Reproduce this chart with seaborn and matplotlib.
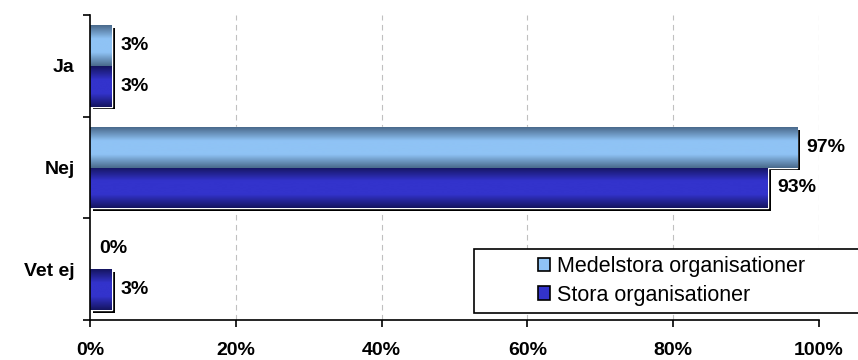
import numpy as np
import pandas as pd
import matplotlib
matplotlib.use("Agg")
import matplotlib.pyplot as plt
import matplotlib.patheffects as pe
from matplotlib.colors import LinearSegmentedColormap
from matplotlib.patches import Patch, Rectangle
from matplotlib.ticker import FixedLocator, PercentFormatter
import seaborn as sns

categories = ["Ja", "Nej", "Vet ej"]
series = ["Medelstora organisationer", "Stora organisationer"]
medelstora = [3, 97, 0]
stora = [3, 93, 3]
x_ticks = [0, 20, 40, 60, 80, 100]

df = pd.DataFrame({
    "Svar": categories * 2,
    "Organisation": [series[0]] * 3 + [series[1]] * 3,
    "Andel": medelstora + stora,
})

sns.set_theme(style="white")
plt.rcParams["font.family"] = ["Liberation Sans", "DejaVu Sans"]
plt.rcParams["text.color"] = "black"
plt.rcParams["xtick.color"] = "black"
plt.rcParams["ytick.color"] = "black"

base_colors = {series[0]: "#8fc3f5", series[1]: "#3333cc"}
edge_colors = {series[0]: "#4a6a8c", series[1]: "#151560"}

fig = plt.figure(figsize=(8.58, 3.6), dpi=100)
ax = fig.add_axes([0.1049, 0.111, 0.8496, 0.847])

sns.barplot(data=df, y="Svar", x="Andel", hue="Organisation", order=categories,
            hue_order=series, palette=base_colors, orient="h", width=0.8,
            ax=ax, legend=False, edgecolor="none", linewidth=0)

ax.set_xlim(0, 100)
ax.set_ylim(2.5, -0.5)

# horizontal bands of colour on each bar to give a rounded look
def band_cmap(name):
    c0 = edge_colors[name]
    c1 = base_colors[name]
    return LinearSegmentedColormap.from_list(name, [c0, c1, c1, c0])

grad = np.linspace(0, 1, 64).reshape(-1, 1)
shadow = [pe.SimplePatchShadow(offset=(2, -2), shadow_rgbFace="black", alpha=1.0),
          pe.Normal()]
containers = ax.containers
for name, cont in zip(series, containers):
    cmap = band_cmap(name)
    for bar in cont:
        w = bar.get_width()
        if w <= 0:
            bar.set_visible(False)
            continue
        bar.set_edgecolor("white")
        bar.set_linewidth(1.0)
        bar.set_path_effects(shadow)
        y0 = bar.get_y()
        h = bar.get_height()
        im = ax.imshow(grad, cmap=cmap, aspect="auto",
                       extent=(0, w, y0 + h, y0), zorder=bar.get_zorder() + 0.1,
                       interpolation="bicubic")
        im.set_clip_path(bar)

# value labels
for name, cont, vals in zip(series, containers, [medelstora, stora]):
    for bar, v in zip(cont, vals):
        yc = bar.get_y() + bar.get_height() / 2
        ax.annotate(f"{v}%", xy=(v, yc), xytext=(6.5, 0), textcoords="offset points",
                    va="center", ha="left", fontsize=14, fontweight="bold",
                    color="black")

# axes styling
for s in ["top", "right"]:
    ax.spines[s].set_visible(False)
for s in ["left", "bottom"]:
    ax.spines[s].set_color("black")
    ax.spines[s].set_linewidth(1.2)

ax.xaxis.set_major_locator(FixedLocator(x_ticks))
ax.xaxis.set_major_formatter(PercentFormatter(decimals=0))
ax.tick_params(axis="x", which="major", direction="out", length=5, width=1.2,
               bottom=True, colors="black", labelsize=14, pad=11)
for lbl in ax.get_xticklabels():
    lbl.set_fontweight("bold")

ax.set_yticks(range(len(categories)))
ax.set_yticklabels(categories, fontsize=14, fontweight="bold")
ax.tick_params(axis="y", which="major", length=0, pad=11, labelcolor="black")
ax.yaxis.set_minor_locator(FixedLocator([-0.5, 0.5, 1.5, 2.5]))
ax.tick_params(axis="y", which="minor", direction="out", length=5, width=1.2,
               left=True, color="black")

ax.set_xlabel("")
ax.set_ylabel("")
ax.grid(False)
for xv in x_ticks[1:]:
    ax.axvline(xv, color="#c0c0c0", linestyle=(0, (5, 4)), linewidth=0.8, zorder=0)

# legend, with its frame running out to the right edge of the figure
handles = [Patch(facecolor=base_colors[s], edgecolor="black", linewidth=1.2) for s in series]
leg = ax.legend(handles, series, loc="upper left",
                bbox_to_anchor=(538 / 858, 1 - 256 / 360), bbox_transform=fig.transFigure,
                frameon=False, fontsize=15.5, handlelength=0.58,
                handleheight=0.58, handletextpad=0.32, borderpad=0.0,
                labelspacing=0.35, borderaxespad=0)
for t in leg.get_texts():
    t.set_color("black")
leg.set_zorder(6)
frame = Rectangle((474 / 858, 1 - 313 / 360), 400 / 858, 64 / 360,
                  transform=fig.transFigure, facecolor="white",
                  edgecolor="black", linewidth=1.2, zorder=5, clip_on=False)
ax.add_patch(frame)

fig.savefig("out.png", dpi=100)
